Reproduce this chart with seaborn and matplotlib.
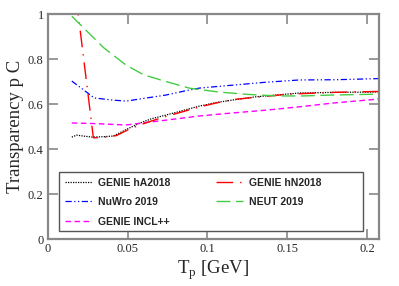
import numpy as np
import pandas as pd
import matplotlib
matplotlib.use("Agg")
import matplotlib.pyplot as plt
from matplotlib.patches import Rectangle
import seaborn as sns

sns.set_style("ticks")
plt.rcParams['font.family'] = ['Liberation Serif', 'DejaVu Serif']

# values
tp_ha = [0.015, 0.018, 0.022, 0.028, 0.035, 0.041, 0.05, 0.0575, 0.065, 0.074, 0.085, 0.095, 0.105, 0.116, 0.13, 0.1575, 0.18, 0.2, 0.207]
tr_ha = [0.453, 0.462, 0.458, 0.453, 0.455, 0.458, 0.49, 0.515, 0.535, 0.551, 0.572, 0.591, 0.606, 0.618, 0.632, 0.649, 0.652, 0.653, 0.654]

tp_hn = [0.015, 0.0285, 0.035, 0.043, 0.05, 0.0575, 0.065, 0.075, 0.085, 0.095, 0.105, 0.116, 0.13, 0.151, 0.18, 0.207]
tr_hn = [1.23, 0.45, 0.452, 0.46, 0.485, 0.507, 0.525, 0.547, 0.567, 0.587, 0.604, 0.62, 0.63, 0.644, 0.652, 0.656]

tp_nuwro = [0.015, 0.022, 0.029, 0.04, 0.049, 0.06, 0.074, 0.085, 0.095, 0.116, 0.135, 0.1575, 0.18, 0.207]
tr_nuwro = [0.702, 0.665, 0.627, 0.618, 0.613, 0.625, 0.64, 0.657, 0.671, 0.684, 0.696, 0.707, 0.708, 0.713]

tp_neut = [0.015, 0.025, 0.035, 0.049, 0.06, 0.074, 0.089, 0.1075, 0.125, 0.143, 0.16, 0.178, 0.207]
tr_neut = [0.99, 0.92, 0.85, 0.773, 0.73, 0.70, 0.67, 0.653, 0.643, 0.636, 0.636, 0.64, 0.644]

tp_incl = [0.015, 0.03, 0.049, 0.07, 0.095, 0.115, 0.137, 0.158, 0.178, 0.207]
tr_incl = [0.516, 0.513, 0.507, 0.525, 0.547, 0.56, 0.573, 0.588, 0.604, 0.622]

xticks = [0, 0.05, 0.1, 0.15, 0.2]
yticks = [0, 0.2, 0.4, 0.6, 0.8, 1]

fig = plt.figure(figsize=(3.99, 2.86), dpi=100)
ax = fig.add_axes([0.120, 0.164, 0.830, 0.787])

# order gives legend columns: hA/NuWro/INCL++ then hN/NEUT
series = [
    ("GENIE hA2018", tp_ha, tr_ha, "black", (0, (1, 1)), 0.9),
    ("NuWro 2019", tp_nuwro, tr_nuwro, "#0000ff", (0, (5, 2, 1, 2, 1, 2)), 0.9),
    ("GENIE INCL++", tp_incl, tr_incl, "#ff00ff", (0, (4, 2.5)), 1.0),
    ("GENIE hN2018", tp_hn, tr_hn, "#ff0000", (0, (12, 5, 1, 5)), 1.0),
    ("NEUT 2019", tp_neut, tr_neut, "#44cc44", (0, (10, 4)), 1.0),
]
for name, x, y, c, ls, lw in series:
    df = pd.DataFrame({"Tp": x, "T": y})
    sns.lineplot(data=df, x="Tp", y="T", ax=ax, color=c, linestyle=ls,
                 linewidth=lw, label=name, sort=False)

ax.set_xlim(0, 0.2075)
ax.set_ylim(0, 1)
ax.set_xticks(xticks)
ax.set_yticks(yticks)
ax.set_xticklabels(["%g" % v for v in xticks], fontsize=9)
ax.set_yticklabels(["%g" % v for v in yticks], fontsize=9)
ax.tick_params(direction="in", length=7, width=1.2, color="#888888",
               top=True, right=True, pad=3)
for s in ax.spines.values():
    s.set_color("#888888")
    s.set_linewidth(1.6)
ax.set_xlabel(r"T$_\mathregular{p}$ [GeV]", fontsize=13.5, labelpad=2)
ax.set_ylabel("Transparency p C", fontsize=13.5, labelpad=3)

# legend frame box
ax.add_patch(Rectangle((0.033, 0.036), 0.919, 0.262, transform=ax.transAxes,
                       facecolor="white", edgecolor="#555555", linewidth=1.0,
                       zorder=4))
leg = ax.legend(loc="upper left", bbox_to_anchor=(0.033, 0.298),
                ncol=2, frameon=False,
                prop={"family": "Liberation Sans", "weight": "bold", "size": 7.5},
                handlelength=2.6, labelspacing=0.9, borderaxespad=0,
                handletextpad=0.6, borderpad=0.55, columnspacing=4.4)
leg.set_zorder(5)

fig.savefig("out.png", dpi=100)
